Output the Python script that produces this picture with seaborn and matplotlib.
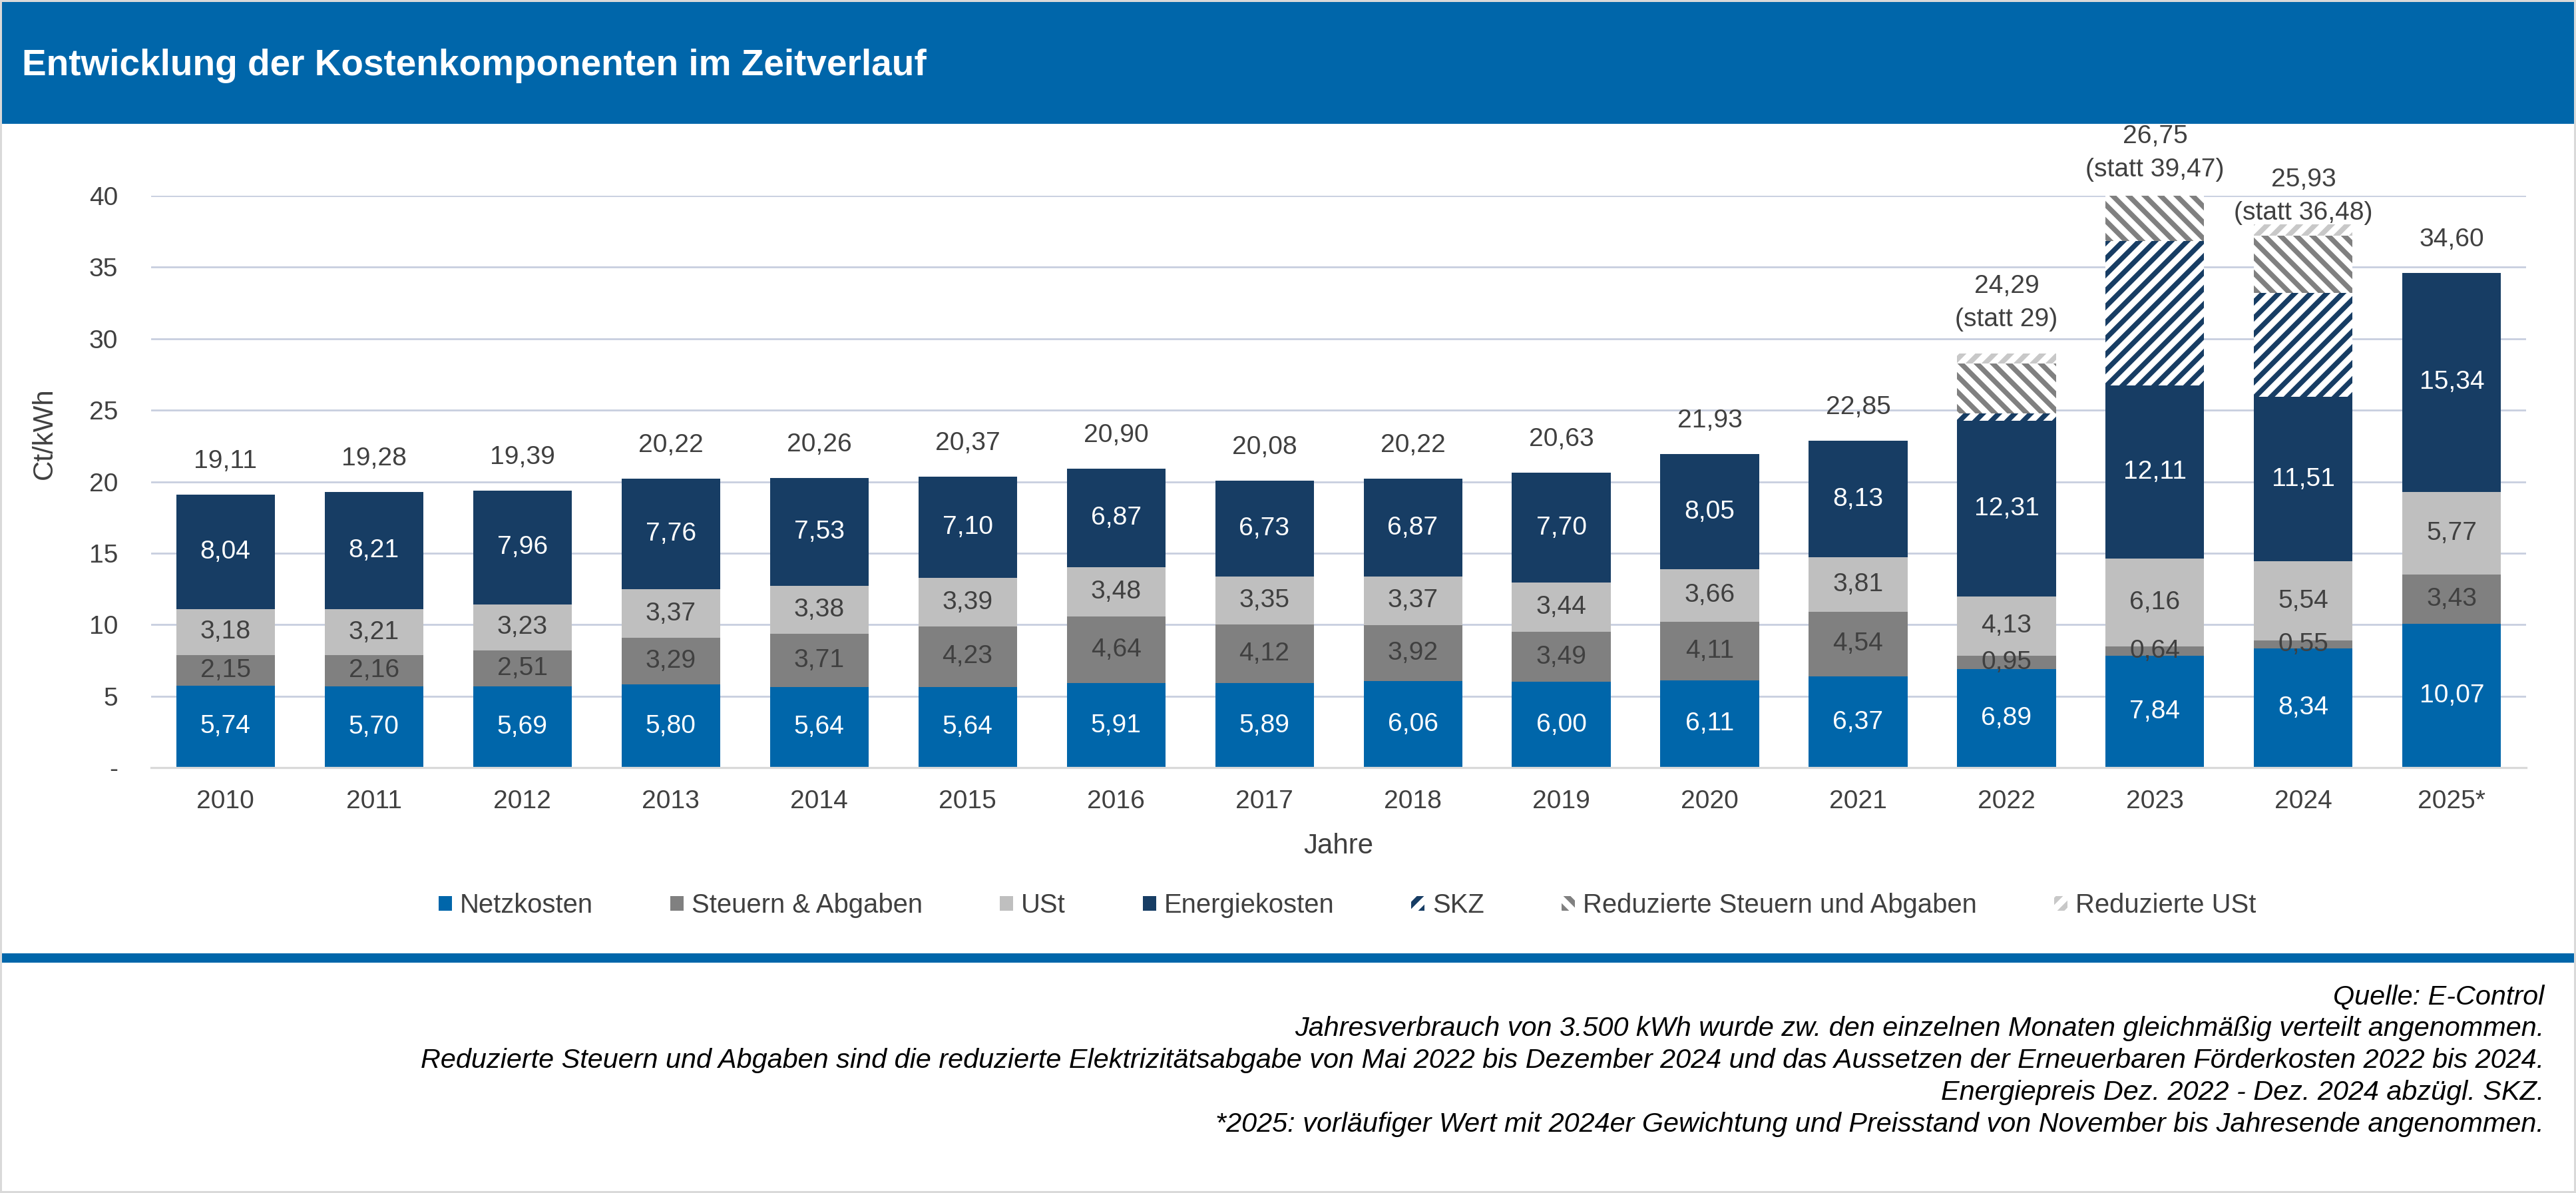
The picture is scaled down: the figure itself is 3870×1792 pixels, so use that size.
import matplotlib
matplotlib.use("Agg")
import matplotlib.pyplot as plt
import matplotlib.patches as mpatches
import numpy as np
import pandas as pd
import seaborn as sns

# === DATEN ===
jahre = ["2010", "2011", "2012", "2013", "2014", "2015", "2016", "2017",
         "2018", "2019", "2020", "2021", "2022", "2023", "2024", "2025*"]
netzkosten = [5.74, 5.70, 5.69, 5.80, 5.64, 5.64, 5.91, 5.89,
              6.06, 6.00, 6.11, 6.37, 6.89, 7.84, 8.34, 10.07]
steuern_abgaben = [2.15, 2.16, 2.51, 3.29, 3.71, 4.23, 4.64, 4.12,
                   3.92, 3.49, 4.11, 4.54, 0.95, 0.64, 0.55, 3.43]
ust = [3.18, 3.21, 3.23, 3.37, 3.38, 3.39, 3.48, 3.35,
       3.37, 3.44, 3.66, 3.81, 4.13, 6.16, 5.54, 5.77]
energiekosten = [8.04, 8.21, 7.96, 7.76, 7.53, 7.10, 6.87, 6.73,
                 6.87, 7.70, 8.05, 8.13, 12.31, 12.11, 11.51, 15.34]
# geschaetzt aus der Grafik (keine Beschriftung)
skz = [0, 0, 0, 0, 0, 0, 0, 0, 0, 0, 0, 0, 0.50, 10.10, 7.25, 0]
red_steuern = [0, 0, 0, 0, 0, 0, 0, 0, 0, 0, 0, 0, 3.50, 3.15, 4.00, 0]
red_ust = [0, 0, 0, 0, 0, 0, 0, 0, 0, 0, 0, 0, 0.70, 0, 0.80, 0]
gesamt = [19.11, 19.28, 19.39, 20.22, 20.26, 20.37, 20.90, 20.08,
          20.22, 20.63, 21.93, 22.85, 24.29, 26.75, 25.93, 34.60]
statt = [None, None, None, None, None, None, None, None,
         None, None, None, None, 29, 39.47, 36.48, None]
y_ticks = [0, 5, 10, 15, 20, 25, 30, 35, 40]
y_ticklabels = ["-", "5", "10", "15", "20", "25", "30", "35", "40"]

titel = "Entwicklung der Kostenkomponenten im Zeitverlauf"
fussnoten = [
    "Quelle: E-Control",
    "Jahresverbrauch von 3.500 kWh wurde zw. den einzelnen Monaten gleichmäßig verteilt angenommen.",
    "Reduzierte Steuern und Abgaben sind die reduzierte Elektrizitätsabgabe von Mai 2022 bis Dezember 2024 und das Aussetzen der Erneuerbaren Förderkosten 2022 bis 2024.",
    "Energiepreis Dez. 2022 - Dez. 2024 abzügl. SKZ.",
    "*2025: vorläufiger Wert mit 2024er Gewichtung und Preisstand von November bis Jahresende angenommen.",
]

# === FARBEN ===
BLAU = "#0066AA"
NAVY = "#173D64"
GRAU = "#808080"
HELLGRAU = "#BFBFBF"
HATCH_HELL = "#C8C8C8"
TEXT = "#404040"
GRID = "#C8CFDF"


def fmt(v):
    return f"{v:.2f}".replace(".", ",")


def fmt_statt(v):
    if float(v).is_integer():
        return str(int(v))
    return fmt(v)


sns.set_style("white")
plt.rcParams["font.family"] = ["Liberation Sans", "DejaVu Sans"]
plt.rcParams["hatch.linewidth"] = 3.8

df = pd.DataFrame({
    "Jahr": jahre,
    "Netzkosten": netzkosten,
    "Steuern & Abgaben": steuern_abgaben,
    "USt": ust,
    "Energiekosten": energiekosten,
    "SKZ": skz,
    "Reduzierte Steuern und Abgaben": red_steuern,
    "Reduzierte USt": red_ust,
})

# (Spalte, Fuellfarbe, Kantenfarbe, Schraffur, Beschriftungsfarbe)
schichten = [
    ("Netzkosten", BLAU, BLAU, None, "white"),
    ("Steuern & Abgaben", GRAU, GRAU, None, TEXT),
    ("USt", HELLGRAU, HELLGRAU, None, TEXT),
    ("Energiekosten", NAVY, NAVY, None, "white"),
    ("SKZ", "white", NAVY, "//", None),
    ("Reduzierte Steuern und Abgaben", "white", GRAU, "\\\\", None),
    ("Reduzierte USt", "white", HATCH_HELL, "//", None),
]

fig = plt.figure(figsize=(3870 / 144, 1792 / 144), dpi=144)
ax = fig.add_axes([0.0587, 0.3566, 0.9806 - 0.0587, 0.8359 - 0.3566])

bottom = np.zeros(len(jahre))
handles = []
for name, face, edge, hatch, lab_col in schichten:
    kws = dict(edgecolor=edge, linewidth=0)
    if hatch:
        kws["hatch"] = hatch
    sns.barplot(data=df, x="Jahr", y=name, order=jahre, color=face,
                saturation=1, width=0.664, errorbar=None,
                bottom=bottom.copy(), ax=ax, zorder=2, **kws)
    werte = df[name].to_numpy()
    if lab_col:
        for i, v in enumerate(werte):
            ax.text(i, bottom[i] + v / 2, fmt(v), ha="center", va="center",
                    color=lab_col, fontsize=19.5, zorder=5)
    handles.append(mpatches.Patch(facecolor=face, edgecolor=edge, linewidth=0,
                                  hatch=hatch, label=name))
    bottom = bottom + werte

# Summen oberhalb der Balken
for i, g in enumerate(gesamt):
    anker = statt[i] if statt[i] is not None else g
    txt = fmt(g) if statt[i] is None else f"{fmt(g)}\n(statt {fmt_statt(statt[i])})"
    ax.annotate(txt, xy=(i, anker), xytext=(0, 16), textcoords="offset points",
                ha="center", va="bottom", multialignment="center", linespacing=1.5,
                fontsize=19.5, color=TEXT, annotation_clip=False, zorder=5)

ax.set_xlim(-0.5, len(jahre) - 0.5)
ax.set_ylim(0, 40)
ax.set_yticks(y_ticks)
ax.set_yticklabels(y_ticklabels)
ax.set_xlabel("")
ax.set_ylabel("")
ax.yaxis.grid(True, color=GRID, linewidth=1.4)
ax.xaxis.grid(False)
ax.set_axisbelow(True)
for s in ["top", "right", "left"]:
    ax.spines[s].set_visible(False)
ax.spines["bottom"].set_color("#D9D9D9")
ax.spines["bottom"].set_linewidth(1.6)
ax.tick_params(axis="both", length=0, labelsize=19.5, labelcolor=TEXT)
ax.tick_params(axis="y", pad=25)
ax.tick_params(axis="x", pad=16.5)

fig.text(0.0173, 0.6367, "Ct/kWh", rotation=90, ha="center", va="center",
         fontsize=21, color=TEXT)
fig.text(0.5196, 0.2908, "Jahre", ha="center", va="center",
         fontsize=21, color=TEXT)

fig.legend(handles=handles, loc="center", bbox_to_anchor=(0.523, 0.241),
           ncol=7, frameon=False, fontsize=20, handlelength=0.5,
           handleheight=0.5, handletextpad=0.3, columnspacing=2.9,
           labelcolor=TEXT)

# Kopfband, Trennlinie, Rahmen
fig.add_artist(mpatches.Rectangle((0, 0.8962), 1, 0.1038, transform=fig.transFigure,
                                  facecolor=BLAU, edgecolor="none", zorder=0))
fig.add_artist(mpatches.Rectangle((0, 0.1931), 1, 0.0078, transform=fig.transFigure,
                                  facecolor=BLAU, edgecolor="none", zorder=0))
fig.add_artist(mpatches.Rectangle((0, 0), 1, 1, transform=fig.transFigure, fill=False,
                                  edgecolor="#D9D9D9", linewidth=3, zorder=10))
fig.text(0.0085, 0.9369, titel, ha="left", va="baseline", fontsize=27.5,
         fontweight="bold", color="white")

y0 = 0.1646
dy = 48 / 1792
for k, zeile in enumerate(fussnoten):
    fig.text(0.9876, y0 - k * dy, zeile, ha="right", va="center",
             style="italic", fontsize=20.7, color="black")

fig.savefig("out.png", dpi=144, facecolor="white")
